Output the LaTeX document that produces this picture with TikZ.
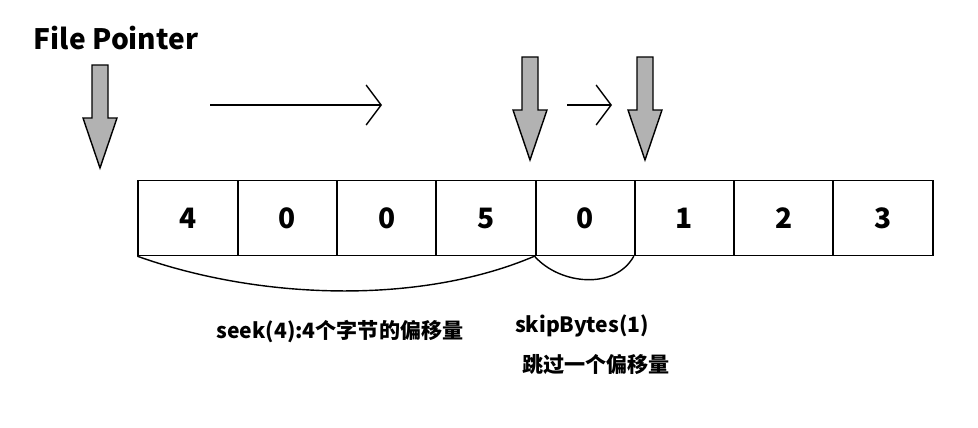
\documentclass[tikz,border=0pt]{standalone}
\usepackage{fontspec}
\setmainfont{Noto Sans CJK SC}
\usetikzlibrary{positioning,arrows.meta}
\tikzset{
  cell/.style={draw, thick, minimum width=2cm, minimum height=1.5cm, inner sep=0pt,
    font=\fontsize{16}{16}\selectfont\bfseries},
  label/.style={font=\fontsize{12}{14}\selectfont\bfseries},
  ptr/.style={draw, thick, fill=gray!60},
  move/.style={thick, -{Straight Barb[length=3mm, width=8mm]}}
}
\newcommand{\pointer}[3]{% x, top y, bottom y
  \draw[ptr] (#1-8,#2) -- (#1+8,#2) -- (#1+8,#3-50) -- (#1+17,#3-50)
    -- (#1,#3) -- (#1-17,#3-50) -- (#1-8,#3-50) -- cycle;}
\begin{document}
\begin{tikzpicture}[x=0.02cm, y=-0.02cm]
    \useasboundingbox (0,0) rectangle (978,427);
    % pointer title
    \node[font=\fontsize{16}{16}\selectfont\bfseries] (title) at (116,38) {File Pointer};
    % byte cells
    \foreach \v [count=\i] in {4,0,0,5,0,1,2,3}
        \node[cell] (c\i) at ({138+50+(\i-1)*99.3},218) {\v};
    % block arrows
    \pointer{100}{65}{168}
    \pointer{530}{57}{160}
    \pointer{645}{57}{160}
    % moves
    \coordinate (m1) at (210,105);
    \coordinate (m2) at (382,105);
    \coordinate (m3) at (567,105);
    \coordinate (m4) at (612,105);
    \draw[move] (m1) -- (m2);
    \draw[move] (m3) -- (m4);
    % spans
    \draw[thick] (c1.south west) .. controls (260,300) and (420,305) .. (c5.south west);
    \draw[thick] (c5.south west) .. controls (560,285) and (615,290) .. (c6.south west);
    % texts
    \node[label] (seek) at (340,332) {seek(4):4个字节的偏移量};
    \node[label] (skip) at (582,326) {skipBytes(1)};
    \node[label] (skipzh) at (596,365) {跳过一个偏移量};
\end{tikzpicture}
\end{document}
